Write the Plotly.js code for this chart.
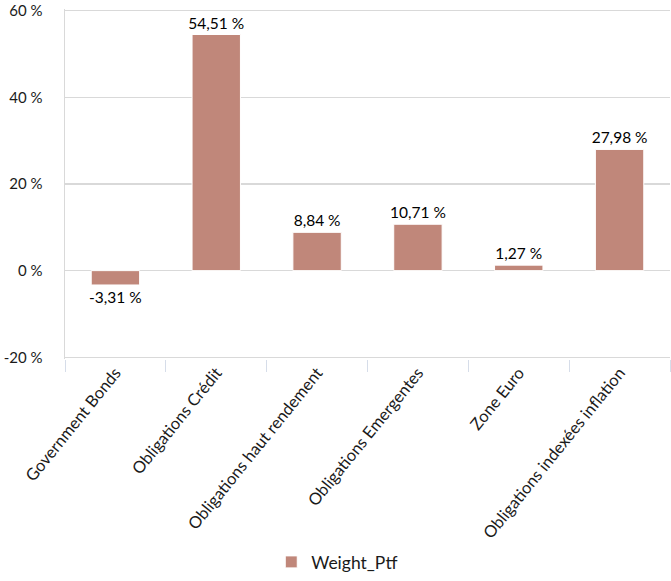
<!DOCTYPE html>
<html>
<head>
<meta charset="utf-8">
<script src="https://cdn.plot.ly/plotly-3.0.1.min.js"></script>
<style>html,body{margin:0;padding:0;background:#fff;}#chart{width:671px;height:581px;}</style>
</head>
<body>
<div id="chart"></div>
<script>
const categories = ["Government Bonds", "Obligations Crédit", "Obligations haut rendement", "Obligations Emergentes", "Zone Euro", "Obligations indexées inflation"];
const weights = [-3.31, 54.51, 8.84, 10.71, 1.27, 27.98];
const seriesName = "Weight_Ptf";
const yTicks = [-20, 0, 20, 40, 60];

const labels = weights.map(v => v.toFixed(2).replace('.', ',') + ' %');
const fontFam = "Lato, 'Open Sans', sans-serif";

const trace = {
  type: 'bar',
  x: categories,
  y: weights,
  name: seriesName,
  text: labels,
  textposition: 'outside',
  constraintext: 'none',
  textfont: {family: fontFam, size: 15.5, color: '#000'},
  cliponaxis: false,
  marker: {color: '#C0877A', line: {color: '#ffffff', width: 1}},
  showlegend: true,
  hoverinfo: 'x+y'
};

const layout = {
  width: 671, height: 581,
  margin: {l: 65, r: 1, t: 9, b: 219},
  paper_bgcolor: '#fff', plot_bgcolor: '#fff',
  font: {family: fontFam, size: 15, color: '#1a1a1a'},
  bargap: 0.52,
  showlegend: true,
  legend: {orientation: 'h', x: 0.45, xanchor: 'center', y: -0.58, yanchor: 'middle',
           font: {family: fontFam, size: 17.5, color: '#1a1a1a'}},
  xaxis: {
    type: 'category',
    tickangle: -51,
    tickson: 'boundaries',
    ticks: 'outside', ticklen: 12, tickcolor: '#d6dde9', tickwidth: 1,
    showline: false, showgrid: false,
    tickfont: {family: fontFam, size: 16.5, color: '#1a1a1a'}
  },
  yaxis: {
    range: [-20.4, 60.4],
    tickvals: yTicks,
    ticktext: yTicks.map(v => v + ' %'),
    showgrid: true, gridcolor: '#d9d9d9', gridwidth: 1.5,
    zeroline: true, zerolinecolor: '#d9d9d9', zerolinewidth: 1.5,
    showline: true, linecolor: '#d9d9d9', linewidth: 1.5,
    ticks: '', ticklabelstandoff: 18,
    tickfont: {family: fontFam, size: 15, color: '#1a1a1a'}
  }
};

Plotly.newPlot('chart', [trace], layout, {displayModeBar: false, staticPlot: true});
</script>
</body>
</html>
